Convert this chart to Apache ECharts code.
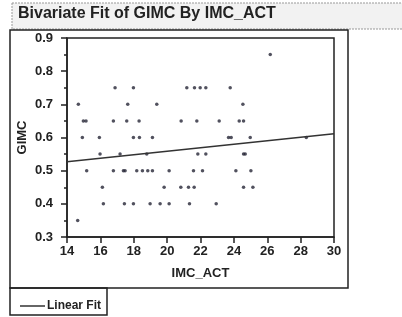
<!DOCTYPE html>
<html>
<head>
<meta charset="utf-8">
<script src="https://cdn.jsdelivr.net/npm/echarts@6/dist/echarts.min.js"></script>
<style>
  html, body { margin: 0; padding: 0; background: #fff; }
  #chart { width: 402px; height: 317px; }
</style>
</head>
<body>
<div id="chart"></div>
<script>
// IMC_ACT (x) and GIMC (y)
const imcAct = [
  26.18,
  16.88, 17.98, 21.18, 21.64, 21.98, 22.32, 23.78,
  14.68, 17.64, 19.38, 24.54,
  14.98, 15.14, 16.78, 17.58, 18.32, 20.84, 21.78, 23.12, 24.32, 24.58,
  14.92, 15.94, 17.98, 18.34, 19.12, 23.68, 23.84, 24.98, 28.34,
  15.98, 17.18, 18.78, 21.84, 22.32, 24.58, 24.68,
  15.18, 16.78, 17.38, 17.48, 18.18, 18.52, 18.84, 19.12, 20.12, 21.58, 22.12, 24.12, 25.02,
  16.12, 19.82, 20.82, 21.28, 21.62, 24.58, 25.14,
  16.18, 17.44, 17.98, 18.98, 19.58, 20.12, 21.34, 22.94,
  14.64
];
const gimc = [
  0.85,
  0.75, 0.75, 0.75, 0.75, 0.75, 0.75, 0.75,
  0.7, 0.7, 0.7, 0.7,
  0.65, 0.65, 0.65, 0.65, 0.65, 0.65, 0.65, 0.65, 0.65, 0.65,
  0.6, 0.6, 0.6, 0.6, 0.6, 0.6, 0.6, 0.6, 0.6,
  0.55, 0.55, 0.55, 0.55, 0.55, 0.55, 0.55,
  0.5, 0.5, 0.5, 0.5, 0.5, 0.5, 0.5, 0.5, 0.5, 0.5, 0.5, 0.5, 0.5,
  0.45, 0.45, 0.45, 0.45, 0.45, 0.45, 0.45,
  0.4, 0.4, 0.4, 0.4, 0.4, 0.4, 0.4, 0.4,
  0.35
];
// linear fit end points
const fitX = [14, 30];
const fitY = [0.527, 0.611];

const font = "Liberation Sans";
const ink = "#222";

const chart = echarts.init(document.getElementById("chart"));
chart.setOption({
  animation: false,
  textStyle: { fontFamily: font },
  grid: { left: 67, top: 38, right: 68, bottom: 80, show: true, borderColor: "#222", borderWidth: 1.5 },
  graphic: [
    {
      type: "rect",
      shape: { x: 12, y: 3, width: 392, height: 26 },
      style: { fill: "#f2f2f2", stroke: "#999", lineWidth: 1, lineDash: [2, 1] }
    },
    {
      type: "text",
      left: 18, top: 6,
      style: { text: "Bivariate Fit of GIMC By IMC_ACT", font: "bold 16px " + font, fill: ink }
    },
    {
      type: "rect",
      shape: { x: 10, y: 30, width: 338, height: 258 },
      style: { fill: "none", stroke: "#222", lineWidth: 1.5 }
    },
    {
      type: "rect",
      shape: { x: 10, y: 288, width: 97, height: 27 },
      style: { fill: "none", stroke: "#222", lineWidth: 1.5 }
    }
  ],
  legend: {
    left: 15, top: 295,
    itemWidth: 25, itemHeight: 1.5, itemGap: 4,
    textStyle: { fontFamily: font, fontSize: 12, fontWeight: "bold", color: ink, padding: [0, 0, 0, -3] },
    data: [{ name: "Linear Fit", icon: "rect" }]
  },
  xAxis: {
    type: "value",
    min: 14, max: 30, interval: 2,
    name: "IMC_ACT", nameLocation: "middle", nameGap: 30,
    nameTextStyle: { fontFamily: font, fontSize: 13, fontWeight: "bold", color: ink },
    axisLine: { lineStyle: { color: "#222", width: 1.5 } },
    axisTick: { length: 6, lineStyle: { color: "#222", width: 1.5 } },
    axisLabel: { margin: 8, fontSize: 13, fontWeight: "bold", color: ink },
    splitLine: { show: false }
  },
  yAxis: {
    type: "value",
    min: 0.3, max: 0.9, interval: 0.1,
    name: "GIMC", nameLocation: "middle", nameGap: 38, nameMoveOverlap: false,
    nameTextStyle: { fontFamily: font, fontSize: 13, fontWeight: "bold", color: ink },
    axisLine: { show: true, lineStyle: { color: "#222", width: 1.5 } },
    axisTick: { length: 6, lineStyle: { color: "#222", width: 1.5 } },
    minorTick: { show: true, splitNumber: 2, length: 3, lineStyle: { color: "#222", width: 1.5 } },
    axisLabel: { margin: 14, fontSize: 13, fontWeight: "bold", color: ink, formatter: v => v.toFixed(1) },
    splitLine: { show: false }
  },
  series: [
    {
      name: "GIMC",
      type: "scatter",
      symbolSize: 3.5,
      itemStyle: { color: "#262636" },
      data: imcAct.map((x, i) => [x, gimc[i]])
    },
    {
      name: "Linear Fit",
      type: "line",
      symbol: "none",
      lineStyle: { color: "#333", width: 1.5 },
      itemStyle: { color: "#333" },
      data: fitX.map((x, i) => [x, fitY[i]])
    }
  ]
});
</script>
</body>
</html>
